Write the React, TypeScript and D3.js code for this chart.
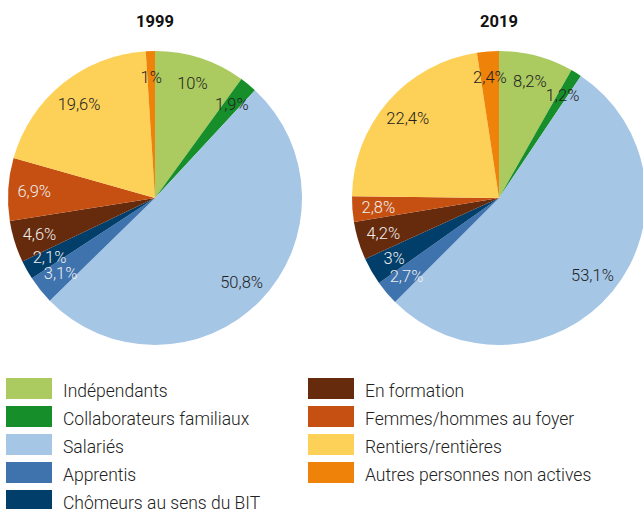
import { useEffect, useRef } from "react";
import * as d3 from "d3";

const categories = [
  "Indépendants",
  "Collaborateurs familiaux",
  "Salariés",
  "Apprentis",
  "Chômeurs au sens du BIT",
  "En formation",
  "Femmes/hommes au foyer",
  "Rentiers/rentières",
  "Autres personnes non actives",
];

const colors = [
  "#abca5f",
  "#168f2b",
  "#a6c6e6",
  "#3f73ae",
  "#013e6a",
  "#662a0c",
  "#c55012",
  "#fdd057",
  "#ef8208",
];

// text colour inside each slice
const labelColors = ["#222", "#222", "#222", "#eee", "#eee", "#eee", "#eee", "#222", "#222"];

const years = ["1999", "2019"];
const values1999 = [10, 1.9, 50.8, 3.1, 2.1, 4.6, 6.9, 19.6, 1];
const values2019 = [8.2, 1.2, 53.1, 2.7, 3, 4.2, 2.8, 22.4, 2.4];

export default function App() {
  const ref = useRef<SVGSVGElement>(null);

  useEffect(() => {
    const width = 643;
    const height = 509;
    const svg = d3.select(ref.current).attr("width", width).attr("height", height);
    svg.selectAll("*").remove();

    const font = "Roboto, 'Noto Sans', sans-serif";
    const radius = 147;
    const centers = [155, 499];
    const cy = 198;

    const pie = d3
      .pie<number>()
      .sort(null)
      .value((d) => d);
    const arc = d3.arc<d3.PieArcDatum<number>>().innerRadius(0).outerRadius(radius);
    const labelArc = d3.arc<d3.PieArcDatum<number>>().innerRadius(121).outerRadius(121);
    const fmt = (v: number) => String(v).replace(".", ",") + "%";

    [values1999, values2019].forEach((vals, i) => {
      const g = svg.append("g").attr("transform", `translate(${centers[i]},${cy})`);
      const arcs = pie(vals);

      g.selectAll("path")
        .data(arcs)
        .join("path")
        .attr("d", arc)
        .attr("fill", (d, j) => colors[j]);

      g.selectAll("text.lbl")
        .data(arcs)
        .join("text")
        .attr("class", "lbl")
        .attr("transform", (d) => `translate(${labelArc.centroid(d)})`)
        .attr("text-anchor", "middle")
        .attr("dy", "0.35em")
        .style("font-family", font)
        .style("font-weight", 300)
        .style("font-size", "16.5px")
        .attr("fill", (d, j) => labelColors[j])
        .text((d) => fmt(d.data));

      svg
        .append("text")
        .attr("x", centers[i])
        .attr("y", 27)
        .attr("text-anchor", "middle")
        .style("font-family", font)
        .style("font-weight", 700)
        .style("font-size", "16.5px")
        .attr("fill", "#111")
        .text(years[i]);
    });

    // legend: 5 rows in first column, 4 in second
    const legend = svg.append("g");
    categories.forEach((c, i) => {
      const col = i < 5 ? 0 : 1;
      const row = i < 5 ? i : i - 5;
      const x = col === 0 ? 6 : 308;
      const y = 378 + row * 28;
      legend
        .append("rect")
        .attr("x", x)
        .attr("y", y)
        .attr("width", 46)
        .attr("height", 21)
        .attr("fill", colors[i]);
      legend
        .append("text")
        .attr("x", x + 57)
        .attr("y", y + 18.5)
        .style("font-family", font)
        .style("font-weight", 300)
        .style("font-size", "17.5px")
        .attr("fill", "#222")
        .text(c);
    });
  }, []);

  return <svg ref={ref} style={{ position: "absolute", left: 0, top: 0 }} />;
}
